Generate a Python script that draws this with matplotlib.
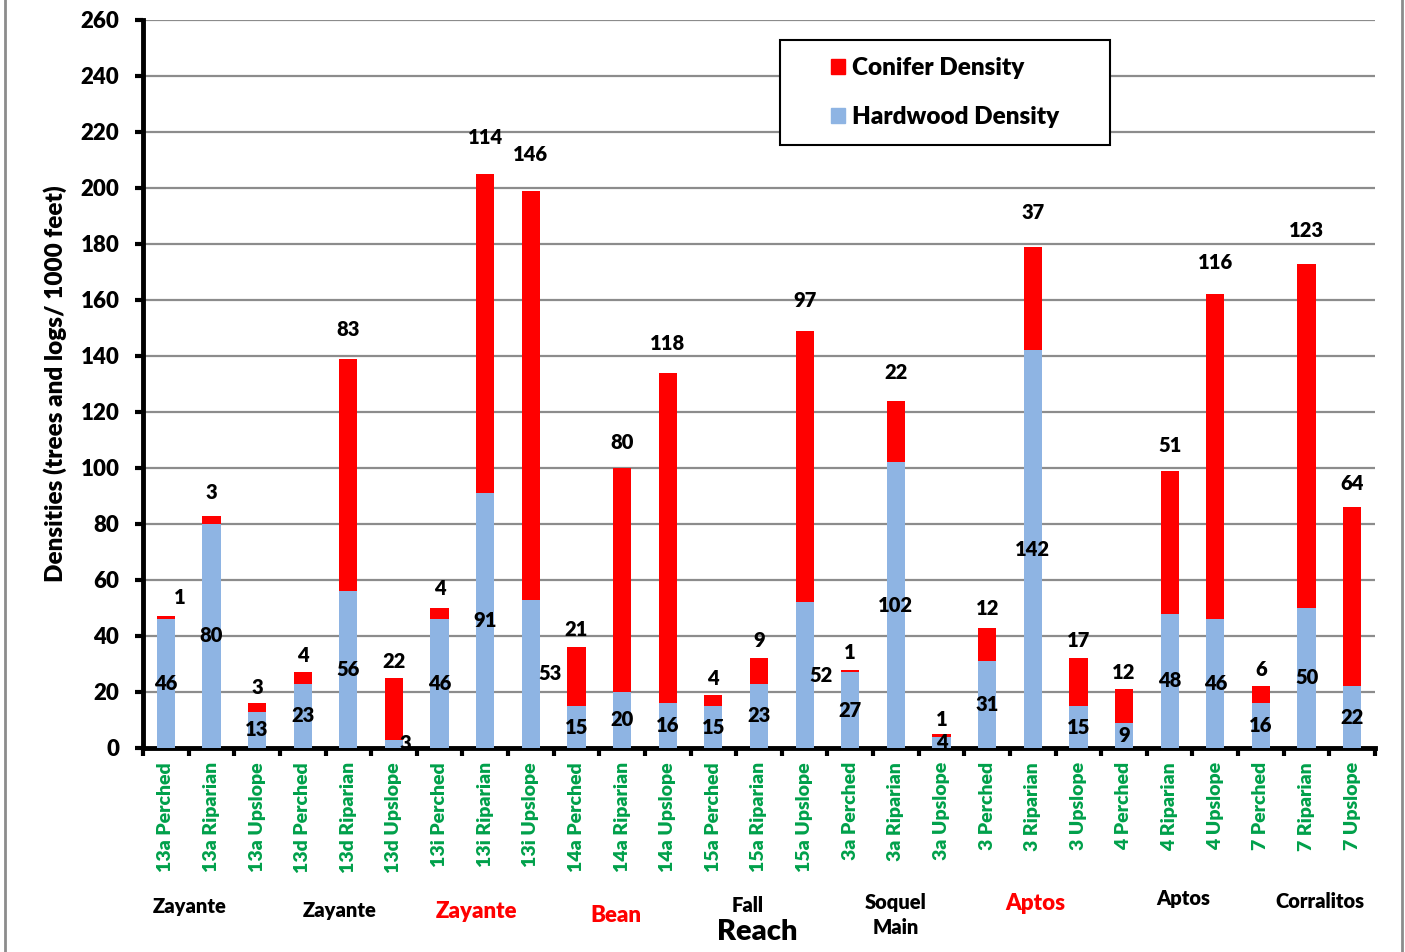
"""
Densites de bois mort (coniferes / feuillus) par troncon et par position
(Perched, Riparian, Upslope), barres empilees avec etiquettes de valeur.
"""

import matplotlib
matplotlib.use("Agg")
import matplotlib.pyplot as plt
from matplotlib.patches import Rectangle, Patch
from matplotlib.lines import Line2D

plt.rcParams["font.family"] = ["Lato", "DejaVu Sans"]
plt.rcParams["font.weight"] = "heavy"
WT = "heavy"

# --- donnees -------------------------------------------------------------
categories = [
    "13a Perched", "13a Riparian", "13a Upslope",
    "13d Perched", "13d Riparian", "13d Upslope",
    "13i Perched", "13i Riparian", "13i Upslope",
    "14a Perched", "14a Riparian", "14a Upslope",
    "15a Perched", "15a Riparian", "15a Upslope",
    "3a Perched", "3a Riparian", "3a Upslope",
    "3 Perched", "3 Riparian", "3 Upslope",
    "4 Perched", "4 Riparian", "4 Upslope",
    "7 Perched", "7 Riparian", "7 Upslope",
]
hardwood = [46, 80, 13, 23, 56, 3, 46, 91, 53, 15, 20, 16, 15, 23, 52,
            27, 102, 4, 31, 142, 15, 9, 48, 46, 16, 50, 22]
conifer = [1, 3, 3, 4, 83, 22, 4, 114, 146, 21, 80, 118, 4, 9, 97,
           1, 22, 1, 12, 37, 17, 12, 51, 116, 6, 123, 64]

# noms des troncons (sous les etiquettes de categories)
reaches = ["Zayante", "Zayante", "Zayante", "Bean", "Fall",
           "Soquel\nMain", "Aptos", "Aptos", "Corralitos"]
reach_colors = ["black", "black", "red", "red", "black",
                "black", "red", "black", "black"]

# --- mise en forme ---------------------------------------------------------
C_CONIF = "#FF0000"
C_HARD = "#8EB4E3"
C_TICK = "#00A04A"
GRID = "#8C8C8C"

# placement des noms de troncons : x en categories, y en px depuis le haut
reach_x = [0.53, 3.8, 6.8, 9.87, 12.75, 16.0, 19.05, 22.3, 25.3]
reach_y = [907, 910, 911, 916, 905, 915, 904, 899, 902]
reach_size = [14.5, 14.5, 16, 16, 14.5, 14.5, 16, 14.5, 14.5]

# quelques etiquettes decalees a droite pour ne pas chevaucher
nudge_hard = {5: 0.24, 8: 0.42, 14: 0.35}
nudge_conif = {0: 0.3}

W, H = 1405, 952
fig = plt.figure(figsize=(W / 100, H / 100), dpi=100)
ax = fig.add_axes([143 / W, 1 - 748 / H, (1375 - 143) / W, (748 - 20) / H])

x = list(range(len(categories)))
ax.bar(x, hardwood, width=0.4, color=C_HARD, zorder=3)
ax.bar(x, conifer, width=0.4, bottom=hardwood, color=C_CONIF, zorder=3)

for i, (h, c) in enumerate(zip(hardwood, conifer)):
    ax.text(i + nudge_hard.get(i, 0), h / 2, f"{h}", ha="center", va="center",
            fontsize=14.5, fontweight=WT, zorder=4)
    tot = h + c
    ax.text(i + nudge_conif.get(i, 0), tot + 5 + 0.04 * tot, f"{c}",
            ha="center", va="center", fontsize=14.5, fontweight=WT, zorder=4)

ax.set_xlim(-0.5, len(categories) - 0.5)
ax.set_ylim(0, 260)
ax.set_yticks(range(0, 261, 20))
ax.yaxis.grid(True, color=GRID, lw=1.6, zorder=0)
ax.set_axisbelow(True)

ax.set_xticks(x)
ax.set_xticklabels(categories, rotation=90, color=C_TICK, fontsize=14,
                   fontweight=WT)
ax.set_xticks([i - 0.5 for i in range(len(categories) + 1)], minor=True)
ax.tick_params(axis="x", which="major", length=0, pad=10)
ax.tick_params(axis="x", which="minor", direction="out", length=6,
               width=3, color="black")
ax.tick_params(axis="y", direction="out", length=6, width=3, pad=11,
               labelsize=16)
for lab in ax.get_yticklabels():
    lab.set_fontweight(WT)

for s in ("top", "right"):
    ax.spines[s].set_visible(False)
for s in ("left", "bottom"):
    ax.spines[s].set_linewidth(3.5)

ax.set_ylabel("Densities (trees and logs/ 1000 feet)", fontsize=17.5,
              fontweight=WT)
ax.yaxis.set_label_coords((67 - 143) / 1232, 0.5)

# legende dans un cadre blanc
bx0, bx1 = (780 - 143) / 1232, (1110 - 143) / 1232
by0, by1 = (748 - 145) / 728, (748 - 40) / 728
ax.add_patch(Rectangle((bx0, by0), bx1 - bx0, by1 - by0, transform=ax.transAxes,
                       facecolor="white", edgecolor="black", lw=1.5, zorder=5))
handles = [Patch(color=C_CONIF, label="Conifer Density"),
           Patch(color=C_HARD, label="Hardwood Density")]
leg = ax.legend(handles=handles, loc="center",
                bbox_to_anchor=((bx0 + bx1) / 2, (by0 + by1) / 2),
                frameon=False, labelspacing=1.1,
                handlelength=0.6, handleheight=0.6, handletextpad=0.3,
                prop={"weight": WT, "size": 17.5})
leg.set_zorder(6)

# noms des troncons
trans = ax.get_xaxis_transform()
for name, col, xr, yr, fs in zip(reaches, reach_colors, reach_x, reach_y, reach_size):
    ax.text(xr, (748 - yr) / 728, name, transform=trans, ha="center",
            va="center", color=col, fontsize=fs, fontweight=WT,
            linespacing=1.35)
ax.text(12.97, (748 - 932) / 728, "Reach", transform=trans, ha="center",
        va="center", fontsize=21, fontweight=WT)

# bordure grise laterale
for xp in (5, 1402):
    fig.add_artist(Line2D([xp / W, xp / W], [0, 1], transform=fig.transFigure,
                          color="#8C8C8C", lw=2))

fig.savefig("out.png", dpi=100)
